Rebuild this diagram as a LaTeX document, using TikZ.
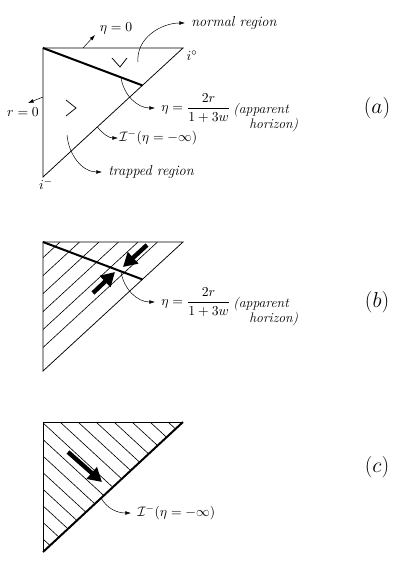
\documentclass[tikz,border=0pt]{standalone}
\usepackage{amsmath}
\usetikzlibrary{arrows.meta, positioning, calc}

\tikzset{
  edge/.style={line width=0.6pt},
  horizon/.style={line width=1.6pt},
  hatch/.style={line width=0.5pt},
  pointer/.style={-{Latex[length=4.5pt,width=3pt]}, line width=0.4pt},
  bigarrow/.style={-{Triangle[length=11pt,width=12pt]}, line width=3.5pt},
  lbl/.style={anchor=west, inner sep=1pt, outer sep=4pt},
  note/.style={anchor=west, inner sep=0pt, font=\fontsize{11}{13}\selectfont\itshape},
  eqn/.style={lbl, font=\fontsize{10.5}{12}\selectfont},
  tag/.style={font=\LARGE},
}

\begin{document}
\begin{tikzpicture}[x=0.8pt, y=-0.8pt, every node/.style={font=\fontsize{11}{13}\selectfont}]
  \useasboundingbox (0,0) rectangle (415,569);

  % Panel (a): the plain diagram
  \coordinate (a1) at (43,48);
  \coordinate (a2) at (183,48);
  \coordinate (a3) at (43,177);
  \coordinate (a4) at ($(a2)!0.29!(a3)$);
  \draw[edge] (a1) -- (a2) -- (a3) -- cycle;
  \draw[horizon] (a1) -- (a4);
  \draw[edge] (112,58) -- (120,67) -- (127,58);
  \draw[edge] (66,100) -- (76,108) -- (66,116);

  \node (ia0) at (192,56) {$i^{\circ}$};
  \node (iam) at (46,184) {$i^{-}$};
  \node (eta0) at (116,28) {$\eta=0$};
  \node (r0) at (23,112) {$r=0$};
  \node[lbl] (normal) at (185,23) {\fontsize{11.5}{13}\selectfont\textit{normal region}};
  \node[eqn] (horA) at (155,108) {$\eta=\dfrac{2r}{1+3w}$};
  \node[note] (appA) at (233,110) {(apparent};
  \node[note] (hznA) at (249,125) {horizon)};
  \node[lbl, outer sep=0pt] (scriA) at (118,138) {$\mathcal{I}^-(\eta=-\infty)$};
  \node[lbl] (trap) at (102,172) {\fontsize{11.5}{13}\selectfont\textit{trapped region}};
  \node[tag] (taga) at (377,108) {$(a)$};

  \coordinate (a5) at (83,48);
  \coordinate (a5e) at (95,35);
  \coordinate (a6) at (138,62);
  \coordinate (a7) at (43,97);
  \coordinate (a7e) at (28,103);
  \coordinate (a8) at (121,78);
  \coordinate (a9) at ($(a2)!0.612!(a3)$);
  \coordinate (a10) at (67,135);

  % Arrows
  \draw[pointer] (a5) -- (a5e);
  \draw[pointer] (a7) -- (a7e);
  \draw[pointer] (a6) to[out=95, in=180] (normal);
  \draw[pointer] (a8) to[out=-80, in=180] (horA);
  \draw[pointer] (a9) to[out=-50, in=180] (scriA);
  \draw[pointer] (a10) to[out=-85, in=180] (trap);

  % Panel (b): hatching along the horizon
  \begin{scope}[shift={(0,194)}]
    \coordinate (b1) at (43,48);
    \coordinate (b2) at (183,48);
    \coordinate (b3) at (43,177);
    \coordinate (b4) at ($(b2)!0.29!(b3)$);
    \begin{scope}
      \clip (b1) -- (b2) -- (b3) -- cycle;
      \foreach \x in {60,79.5,...,160}
        \draw[hatch] (\x,48) -- ++(-160,147.4);
    \end{scope}
    \draw[edge] (b1) -- (b2) -- (b3) -- cycle;
    \draw[horizon] (b1) -- (b4);

    \coordinate (b5) at (147,51);
    \coordinate (b5e) at (123,73);
    \coordinate (b6) at (93,99);
    \coordinate (b6e) at (115,78);
    \coordinate (b7) at (121,78);
    \draw[bigarrow] (b5) -- (b5e);
    \draw[bigarrow] (b6) -- (b6e);

    \node[eqn] (horB) at (155,108) {$\eta=\dfrac{2r}{1+3w}$};
    \node[note] (appB) at (233,110) {(apparent};
    \node[note] (hznB) at (249,125) {horizon)};
    \node[tag] (tagb) at (377,108) {$(b)$};
    \draw[pointer] (b7) to[out=-80, in=180] (horB);
  \end{scope}

  % Panel (c): hatching across the horizon
  \begin{scope}[shift={(0,374)}]
    \coordinate (c1) at (43,48);
    \coordinate (c2) at (183,48);
    \coordinate (c3) at (43,178);
    \begin{scope}
      \clip (c1) -- (c2) -- (c3) -- cycle;
      \foreach \x in {-102,-84,...,170}
        \draw[hatch] (\x,48) -- ++(280,258);
    \end{scope}
    \draw[edge] (c3) -- (c1) -- (c2);
    \draw[horizon] (c2) -- (c3);

    \coordinate (c4) at (68,78);
    \coordinate (c4e) at (102,108);
    \coordinate (c5) at ($(c2)!0.585!(c3)$);
    \draw[bigarrow] (c4) -- (c4e);

    \node[lbl] (scriC) at (131,139) {$\mathcal{I}^-(\eta=-\infty)$};
    \node[tag] (tagc) at (377,93) {$(c)$};
    \draw[pointer] (c5) to[out=-60, in=180] (scriC);
  \end{scope}
\end{tikzpicture}
\end{document}
